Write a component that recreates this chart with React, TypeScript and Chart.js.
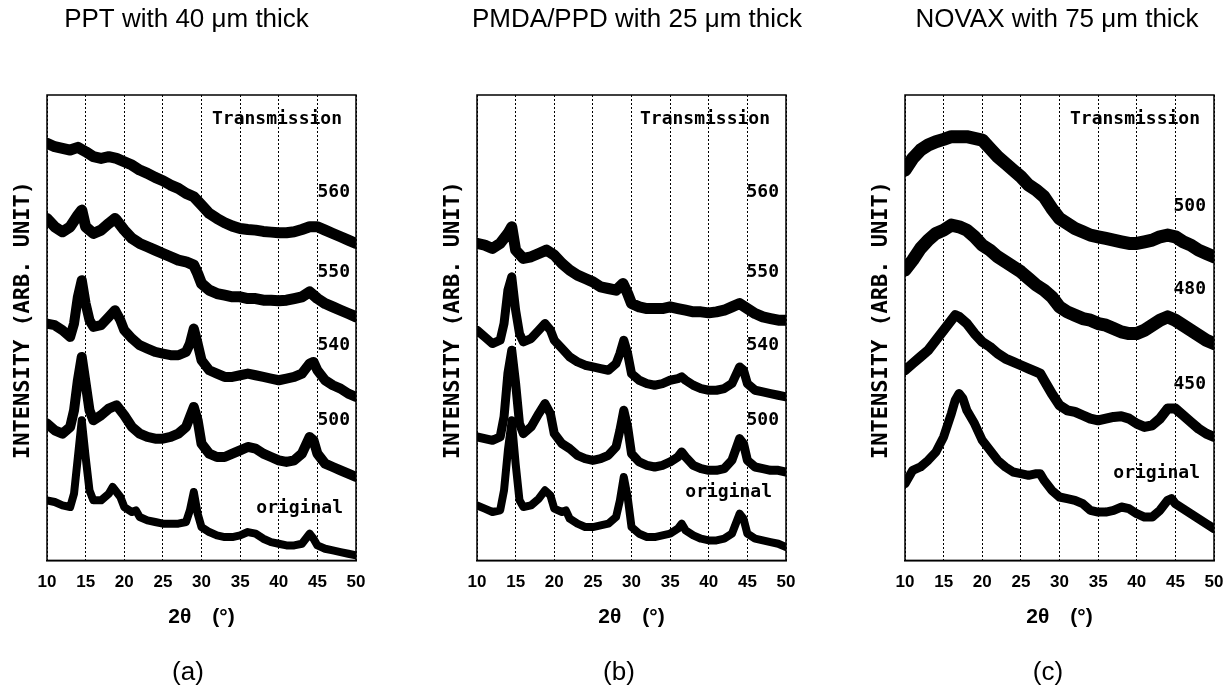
import React, { useEffect, useRef } from "react";
import { Chart, registerables } from "chart.js";

Chart.register(...registerables);

type P = [number, number];

// ---------- Panel (a): PPT, 40 um ----------
const PPT_560: P[] = [[10,1250],[11,1240],[12,1235],[13,1230],[14,1238],[15,1225],[16,1210],[17,1205],[18,1210],[19,1205],[20,1195],[21,1185],[22,1170],[23,1160],[24,1148],[25,1138],[26,1125],[27,1115],[28,1100],[29,1090],[30,1065],[31,1040],[32,1025],[33,1012],[34,1002],[35,995],[36,992],[37,990],[38,986],[39,984],[40,982],[41,982],[42,985],[43,992],[44,1000],[45,1000],[46,990],[47,980],[48,970],[49,960],[50,950]];
const PPT_550: P[] = [[10,1025],[11,1000],[12,985],[13,1000],[14,1035],[14.5,1050],[15,1000],[16,980],[17,990],[18,1010],[18.8,1025],[19,1020],[20,990],[21,965],[22,950],[23,940],[24,930],[25,920],[26,910],[27,900],[28,895],[29,885],[29.5,860],[30,830],[31,810],[32,800],[33,795],[34,790],[35,790],[36,785],[37,785],[38,780],[39,780],[40,778],[41,780],[42,785],[43,790],[44,805],[45,785],[46,770],[47,760],[48,750],[49,740],[50,730]];
const PPT_540: P[] = [[10,710],[11,705],[12,690],[13,670],[13.5,710],[14,790],[14.5,840],[15,770],[15.5,720],[16,700],[17,705],[18,730],[18.8,750],[19.5,720],[20,690],[21,665],[22,645],[23,635],[24,625],[25,620],[26,615],[27,615],[28,625],[28.5,650],[29,695],[29.5,650],[30,600],[31,570],[32,560],[33,550],[34,550],[35,555],[36,560],[37,555],[38,550],[39,545],[40,540],[41,545],[42,550],[43,560],[44,590],[44.5,595],[45,570],[46,540],[47,525],[48,515],[49,500],[50,490]];
const PPT_500: P[] = [[10,410],[11,390],[12,380],[13,400],[13.5,450],[14,540],[14.5,610],[15,530],[15.5,450],[16,420],[17,435],[18,455],[19,465],[20,435],[21,400],[22,380],[23,370],[24,365],[25,365],[26,370],[27,380],[28,400],[28.5,430],[29,460],[29.5,420],[30,350],[31,320],[32,310],[33,310],[34,320],[35,330],[36,340],[37,335],[38,320],[39,310],[40,300],[41,295],[42,300],[43,320],[44,370],[44.5,360],[45,320],[46,290],[47,280],[48,270],[49,260],[50,250]];
const PPT_ORIG: P[] = [[10,180],[11,175],[12,165],[13,160],[13.5,200],[14,310],[14.5,420],[15,310],[15.5,210],[16,180],[17,180],[18,200],[18.5,220],[19.5,190],[20,160],[21,145],[21.5,150],[22,130],[23,120],[24,115],[25,110],[26,110],[27,110],[28,115],[28.5,150],[29,205],[29.5,140],[30,100],[31,85],[32,75],[33,70],[34,70],[35,75],[36,85],[37,80],[38,65],[39,55],[40,50],[41,45],[42,45],[43,50],[44,80],[44.5,65],[45,45],[46,35],[47,30],[48,25],[49,20],[50,15]];

// ---------- Panel (b): PMDA/PPD, 25 um ----------
const PMDA_550: P[] = [[10,950],[11,945],[12,935],[13,950],[14,980],[14.5,1000],[15,930],[16,905],[17,910],[18,920],[19,930],[20,915],[21,890],[22,870],[23,855],[24,845],[25,835],[26,820],[27,815],[28,810],[28.9,830],[29.5,800],[30,770],[31,760],[32,755],[33,755],[34,755],[35,760],[36,755],[37,750],[38,745],[39,745],[40,742],[41,745],[42,750],[43,760],[44,770],[45,755],[46,740],[47,730],[48,725],[49,720],[50,720]];
const PMDA_540: P[] = [[10,690],[11,670],[12,650],[13,660],[13.5,710],[14,810],[14.5,850],[15,750],[15.5,680],[16,655],[17,665],[18,690],[18.8,710],[19.5,690],[20,660],[21,635],[22,610],[23,595],[24,585],[25,580],[26,575],[27,570],[28,590],[28.5,620],[29,660],[29.5,620],[30,560],[31,540],[32,530],[33,525],[34,530],[35,540],[36,545],[36.5,550],[37,540],[38,525],[39,515],[40,510],[41,510],[42,515],[43,530],[44,580],[44.5,570],[45,530],[46,510],[47,505],[48,500],[49,495],[50,490]];
const PMDA_500: P[] = [[10,370],[11,365],[12,360],[13,370],[13.5,430],[14,560],[14.5,630],[15,530],[15.5,410],[16,380],[17,400],[18,440],[18.8,470],[19.5,440],[20,380],[21,350],[22,335],[23,315],[24,305],[25,300],[26,305],[27,315],[28,340],[28.5,390],[29,450],[29.5,400],[30,320],[31,295],[32,285],[33,280],[34,285],[35,295],[36,310],[36.5,325],[37,310],[38,285],[39,275],[40,270],[41,270],[42,275],[43,300],[44,365],[44.5,350],[45,300],[46,280],[47,275],[48,270],[49,270],[50,265]];
const PMDA_ORIG: P[] = [[10,165],[11,155],[12,145],[13,150],[13.5,210],[14,330],[14.5,420],[15,290],[15.5,180],[16,160],[17,165],[18,185],[18.8,210],[19.5,195],[20,155],[21,145],[21.5,150],[22,125],[23,110],[24,100],[25,100],[26,105],[27,110],[28,130],[28.5,180],[29,250],[29.5,190],[30,100],[31,80],[32,70],[33,70],[34,75],[35,80],[36,95],[36.5,110],[37,90],[38,75],[39,65],[40,60],[41,60],[42,65],[43,80],[44,140],[44.5,125],[45,80],[46,65],[47,60],[48,55],[49,50],[50,40]];

// ---------- Panel (c): NOVAX, 75 um ----------
const NOVAX_500: P[] = [[10,1170],[11,1205],[12,1230],[13,1245],[14,1255],[15,1262],[16,1270],[17,1270],[18,1270],[19,1265],[20,1260],[21,1235],[22,1210],[23,1190],[24,1170],[25,1150],[26,1125],[27,1110],[28,1090],[29,1055],[30,1025],[31,1010],[32,995],[33,985],[34,975],[35,970],[36,965],[37,960],[38,955],[39,950],[40,950],[41,955],[42,960],[43,970],[44,975],[45,970],[46,955],[47,945],[48,930],[49,920],[50,910]];
const NOVAX_480: P[] = [[10,870],[11,900],[12,935],[13,960],[14,980],[15,990],[16,1005],[17,1000],[18,990],[19,970],[20,945],[21,930],[22,910],[23,895],[24,880],[25,865],[26,845],[27,825],[28,810],[29,790],[30,760],[31,745],[32,735],[33,725],[34,720],[35,710],[36,705],[37,695],[38,685],[39,680],[40,680],[41,690],[42,705],[43,720],[44,730],[45,720],[46,705],[47,690],[48,675],[49,660],[50,650]];
const NOVAX_450: P[] = [[10,570],[11,590],[12,610],[13,630],[14,660],[15,690],[16,720],[16.5,735],[17,730],[18,710],[19,680],[20,655],[21,640],[22,620],[23,605],[24,595],[25,585],[26,575],[27,565],[27.5,560],[28,540],[29,500],[30,465],[31,450],[32,445],[33,435],[34,425],[35,420],[36,425],[37,430],[38,432],[39,425],[40,410],[41,400],[42,405],[43,425],[44,455],[45,455],[46,435],[47,415],[48,395],[49,380],[50,370]];
const NOVAX_ORIG: P[] = [[10,230],[11,270],[12,280],[13,300],[14,325],[15,370],[16,440],[16.5,480],[17,500],[17.5,485],[18,450],[19,410],[20,360],[21,330],[22,300],[23,280],[24,265],[25,260],[26,255],[27,260],[27.5,260],[28,240],[29,210],[30,190],[31,185],[32,180],[33,170],[34,150],[35,145],[36,145],[37,150],[38,160],[39,155],[40,140],[41,130],[42,130],[43,150],[44,180],[44.5,185],[45,170],[46,155],[47,140],[48,125],[49,110],[50,95]];

// ---------- Text ----------
const TITLES = ["PPT with 40 \u03bcm thick", "PMDA/PPD with 25 \u03bcm thick", "NOVAX with 75 \u03bcm thick"];
const SUBLABELS = ["(a)", "(b)", "(c)"];
const LABELS_A = ["Transmission", "560", "550", "540", "500", "original"];
const LABELS_B = ["Transmission", "560", "550", "540", "500", "original"];
const LABELS_C = ["Transmission", "500", "480", "450", "original"];
const X_TITLE = "2\u03b8\u3000(\u00b0)";
const Y_TITLE = "INTENSITY (ARB. UNIT)";

// ---------- Layout (positions / sizes only) ----------
const PANELS = [
  { left: 0, width: 400, padL: 47, padR: 44, titleX: 186.5, subX: 188,
    traces: [PPT_560, PPT_550, PPT_540, PPT_500, PPT_ORIG], widths: [11, 11, 10, 10, 8],
    labels: LABELS_A, labelY: [119, 192, 272, 345, 420, 508], labelInset: [14, 6, 6, 6, 6, 13] },
  { left: 410, width: 400, padL: 67, padR: 24, titleX: 227, subX: 209,
    traces: [PMDA_550, PMDA_540, PMDA_500, PMDA_ORIG], widths: [11, 9, 9, 8],
    labels: LABELS_B, labelY: [119, 192, 272, 345, 420, 492], labelInset: [16, 7, 7, 7, 7, 14] },
  { left: 820, width: 420, padL: 85, padR: 26, titleX: 237, subX: 228,
    traces: [NOVAX_500, NOVAX_480, NOVAX_450, NOVAX_ORIG], widths: [13, 13, 10, 9],
    labels: LABELS_C, labelY: [119, 206, 289, 384, 473], labelInset: [14, 8, 8, 8, 14] },
];

const decor = {
  id: "decor",
  afterDraw(chart: any, _args: any, opts: any) {
    const { ctx, chartArea: a } = chart;
    ctx.save();
    ctx.strokeStyle = "#000";
    ctx.lineWidth = 1.5;
    ctx.strokeRect(a.left, a.top, a.right - a.left, a.bottom - a.top);
    ctx.fillStyle = "#000";
    ctx.font = "bold 18px 'DejaVu Sans Mono'";
    ctx.textAlign = "right";
    ctx.textBaseline = "middle";
    opts.labels.forEach((t: string, i: number) => {
      ctx.fillText(t, a.right - opts.labelInset[i], opts.labelY[i]);
    });
    ctx.save();
    ctx.translate(a.left - 23.5, 320);
    ctx.rotate(-Math.PI / 2);
    ctx.font = "bold 22px 'DejaVu Sans Mono'";
    ctx.textAlign = "center";
    ctx.fillText(Y_TITLE, 0, 0);
    ctx.restore();
    ctx.font = "26px 'Liberation Sans'";
    ctx.textAlign = "center";
    ctx.textBaseline = "alphabetic";
    ctx.fillText(opts.title, opts.titleX, 27);
    ctx.fillText(opts.sub, opts.subX, 680);
    ctx.restore();
  },
};

function Panel({ idx }: { idx: number }) {
  const ref = useRef<HTMLCanvasElement>(null);
  const p = PANELS[idx];
  useEffect(() => {
    if (!ref.current) return;
    const chart = new Chart(ref.current, {
      type: "line",
      data: {
        datasets: p.traces.map((tr, i) => ({
          data: tr.map(([x, y]) => ({ x, y })),
          borderColor: "#000",
          borderWidth: p.widths[i],
          pointRadius: 0,
          tension: 0,
          borderJoinStyle: "round" as const,
          borderCapStyle: "round" as const,
          fill: false,
        })),
      },
      options: {
        animation: false,
        responsive: false,
        maintainAspectRatio: false,
        layout: { padding: { left: p.padL, right: p.padR, top: 95, bottom: 62 } },
        plugins: {
          legend: { display: false },
          tooltip: { enabled: false },
          decor: {
            labels: p.labels, labelY: p.labelY, labelInset: p.labelInset,
            title: TITLES[idx], sub: SUBLABELS[idx], titleX: p.titleX, subX: p.subX,
          },
        } as any,
        scales: {
          x: {
            type: "linear",
            min: 10,
            max: 50,
            ticks: { stepSize: 5, color: "#000", padding: 12, maxRotation: 0,
              font: { family: "'Liberation Sans'", size: 17, weight: "bold" } },
            grid: { color: "#000", lineWidth: 1, drawTicks: false },
            border: { display: true, color: "#000", width: 1.5, dash: [2, 2] },
            title: { display: true, text: X_TITLE, color: "#000", padding: { top: 0, bottom: 0 },
              font: { family: "'Liberation Sans'", size: 21, weight: "bold" } },
          },
          y: { type: "linear", display: false, min: 0, max: 1395 },
        },
      },
      plugins: [decor],
    });
    return () => chart.destroy();
  }, []);
  return (
    <canvas
      ref={ref}
      width={p.width}
      height={692}
      style={{ position: "absolute", left: p.left, top: 0, width: p.width, height: 692 }}
    />
  );
}

export default function App() {
  return (
    <div style={{ position: "absolute", left: 0, top: 0, width: 1228, height: 692, background: "#fff", overflow: "hidden" }}>
      <Panel idx={0} />
      <Panel idx={1} />
      <Panel idx={2} />
    </div>
  );
}
